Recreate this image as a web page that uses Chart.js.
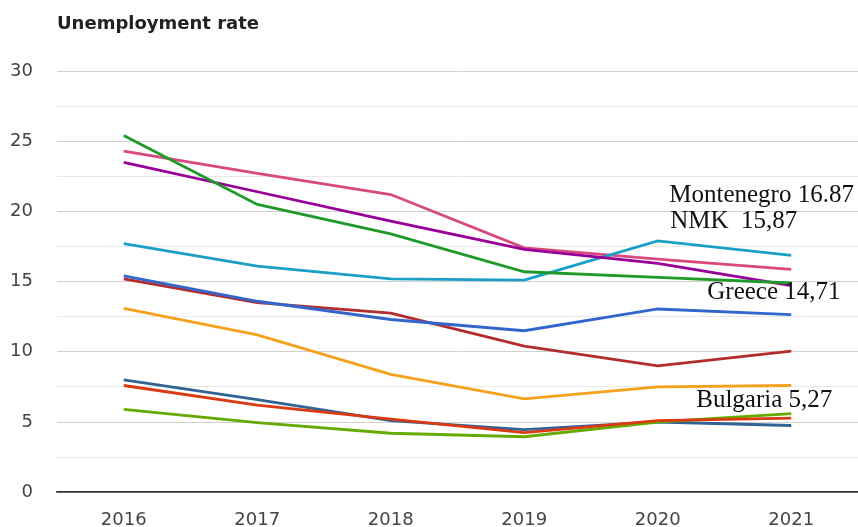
<!DOCTYPE html>
<html>
<head>
<meta charset="utf-8">
<script src="https://cdn.jsdelivr.net/npm/chart.js@4"></script>
<style>
  html, body { margin: 0; padding: 0; background: #fff; }
  #wrap { width: 858px; height: 527px; }
</style>
</head>
<body>
<div id="wrap"><canvas id="rateChart" width="858" height="527"></canvas></div>
<script>
// years on the x axis
const years = ["2016", "2017", "2018", "2019", "2020", "2021"];

// unemployment rate, %
const bosnia = [25.4, 20.5, 18.4, 15.7, 15.3, 14.9];
const nmk = [24.3, 22.7, 21.2, 17.4, 16.6, 15.87];
const greece = [23.5, 21.4, 19.3, 17.3, 16.3, 14.71];
const montenegro = [17.7, 16.1, 15.2, 15.1, 17.9, 16.87];
const albania = [15.4, 13.6, 12.3, 11.5, 13.05, 12.65];
const serbia = [15.2, 13.5, 12.75, 10.4, 9.0, 10.05];
const croatia = [13.1, 11.2, 8.4, 6.65, 7.5, 7.6];
const slovenia = [8.0, 6.6, 5.1, 4.45, 5.0, 4.75];
const bulgaria = [7.6, 6.2, 5.2, 4.25, 5.1, 5.27];
const romania = [5.9, 4.95, 4.2, 3.95, 5.0, 5.6];

// y axis range / ticks
const yMin = 0;
const yMax = 30;
const yStep = 2.5;

const series = [
  { label: "Albania", data: albania, color: "#3366cc" },
  { label: "Bulgaria", data: bulgaria, color: "#dc3912" },
  { label: "Croatia", data: croatia, color: "#f5a11c" },
  { label: "Bosnia and Herzegovina", data: bosnia, color: "#1f9a2a" },
  { label: "Greece", data: greece, color: "#990099" },
  { label: "Montenegro", data: montenegro, color: "#1a9fc6" },
  { label: "NMK", data: nmk, color: "#d84a7e" },
  { label: "Romania", data: romania, color: "#66aa00" },
  { label: "Serbia", data: serbia, color: "#b22e2e" },
  { label: "Slovenia", data: slovenia, color: "#316395" },
];

// text next to the last point of some lines
const callouts = [
  { series: "Montenegro", prefix: "Montenegro ", sep: ".", dx: -122, dy: -53 },
  { series: "NMK", prefix: "NMK  ", sep: ",", dx: -121, dy: -41 },
  { series: "Greece", prefix: "Greece ", sep: ",", dx: -84, dy: 13 },
  { series: "Bulgaria", prefix: "Bulgaria ", sep: ",", dx: -95, dy: -11 },
];

const titlePlugin = {
  id: "chartTitle",
  afterDraw(chart) {
    const ctx = chart.ctx;
    ctx.save();
    ctx.font = "bold 18px 'DejaVu Sans'";
    ctx.fillStyle = "#222";
    ctx.textBaseline = "alphabetic";
    ctx.fillText("Unemployment rate", 57, 29);
    ctx.restore();
  },
};

const calloutPlugin = {
  id: "callouts",
  afterDatasetsDraw(chart) {
    const ctx = chart.ctx;
    ctx.save();
    ctx.font = "25px 'Liberation Serif'";
    ctx.fillStyle = "#111";
    ctx.textBaseline = "alphabetic";
    callouts.forEach((c) => {
      const i = chart.data.datasets.findIndex((d) => d.label === c.series);
      const meta = chart.getDatasetMeta(i);
      const last = meta.data.length - 1;
      const pt = meta.data[last];
      const value = chart.data.datasets[i].data[last];
      const text = c.prefix + value.toFixed(2).replace(".", c.sep);
      ctx.fillText(text, pt.x + c.dx, pt.y + c.dy);
    });
    ctx.restore();
  },
};

const rateCanvas = document.getElementById("rateChart");
let rateChart = new Chart(rateCanvas, {
  type: "line",
  data: {
    labels: years,
    datasets: series.map((s) => ({
      label: s.label,
      data: s.data,
      borderColor: s.color,
      backgroundColor: s.color,
      borderWidth: 2.8,
      pointRadius: 0,
      tension: 0,
      fill: false,
    })),
  },
  options: {
    responsive: false,
    animation: false,
    layout: { padding: { top: 71, left: 0, right: 0, bottom: 0 } },
    plugins: {
      legend: { display: false },
      title: { display: false },
      tooltip: { enabled: false },
    },
    scales: {
      x: {
        offset: true,
        grid: { display: false },
        border: { display: true, color: "#333", width: 1.5 },
        ticks: {
          color: "#444",
          font: { family: "'DejaVu Sans'", size: 18 },
          padding: 9,
          maxRotation: 0,
        },
        afterFit(scale) {
          scale.height = 34;
        },
      },
      y: {
        min: yMin,
        max: yMax,
        border: { display: false },
        grid: {
          drawTicks: false,
          color: (c) => (c.tick.value === 0 ? "#333" : c.tick.value % 5 === 0 ? "#d0d0d0" : "#e8e8e8"),
          lineWidth: (c) => (c.tick.value === 0 ? 1.5 : 1),
        },
        ticks: {
          stepSize: yStep,
          autoSkip: false,
          color: "#444",
          padding: 24,
          font: { family: "'DejaVu Sans'", size: 18 },
          callback: (v) => (v % 5 === 0 ? v : ""),
        },
        afterFit(scale) {
          scale.width = 57;
        },
      },
    },
  },
  plugins: [titlePlugin, calloutPlugin],
});
</script>
</body>
</html>
